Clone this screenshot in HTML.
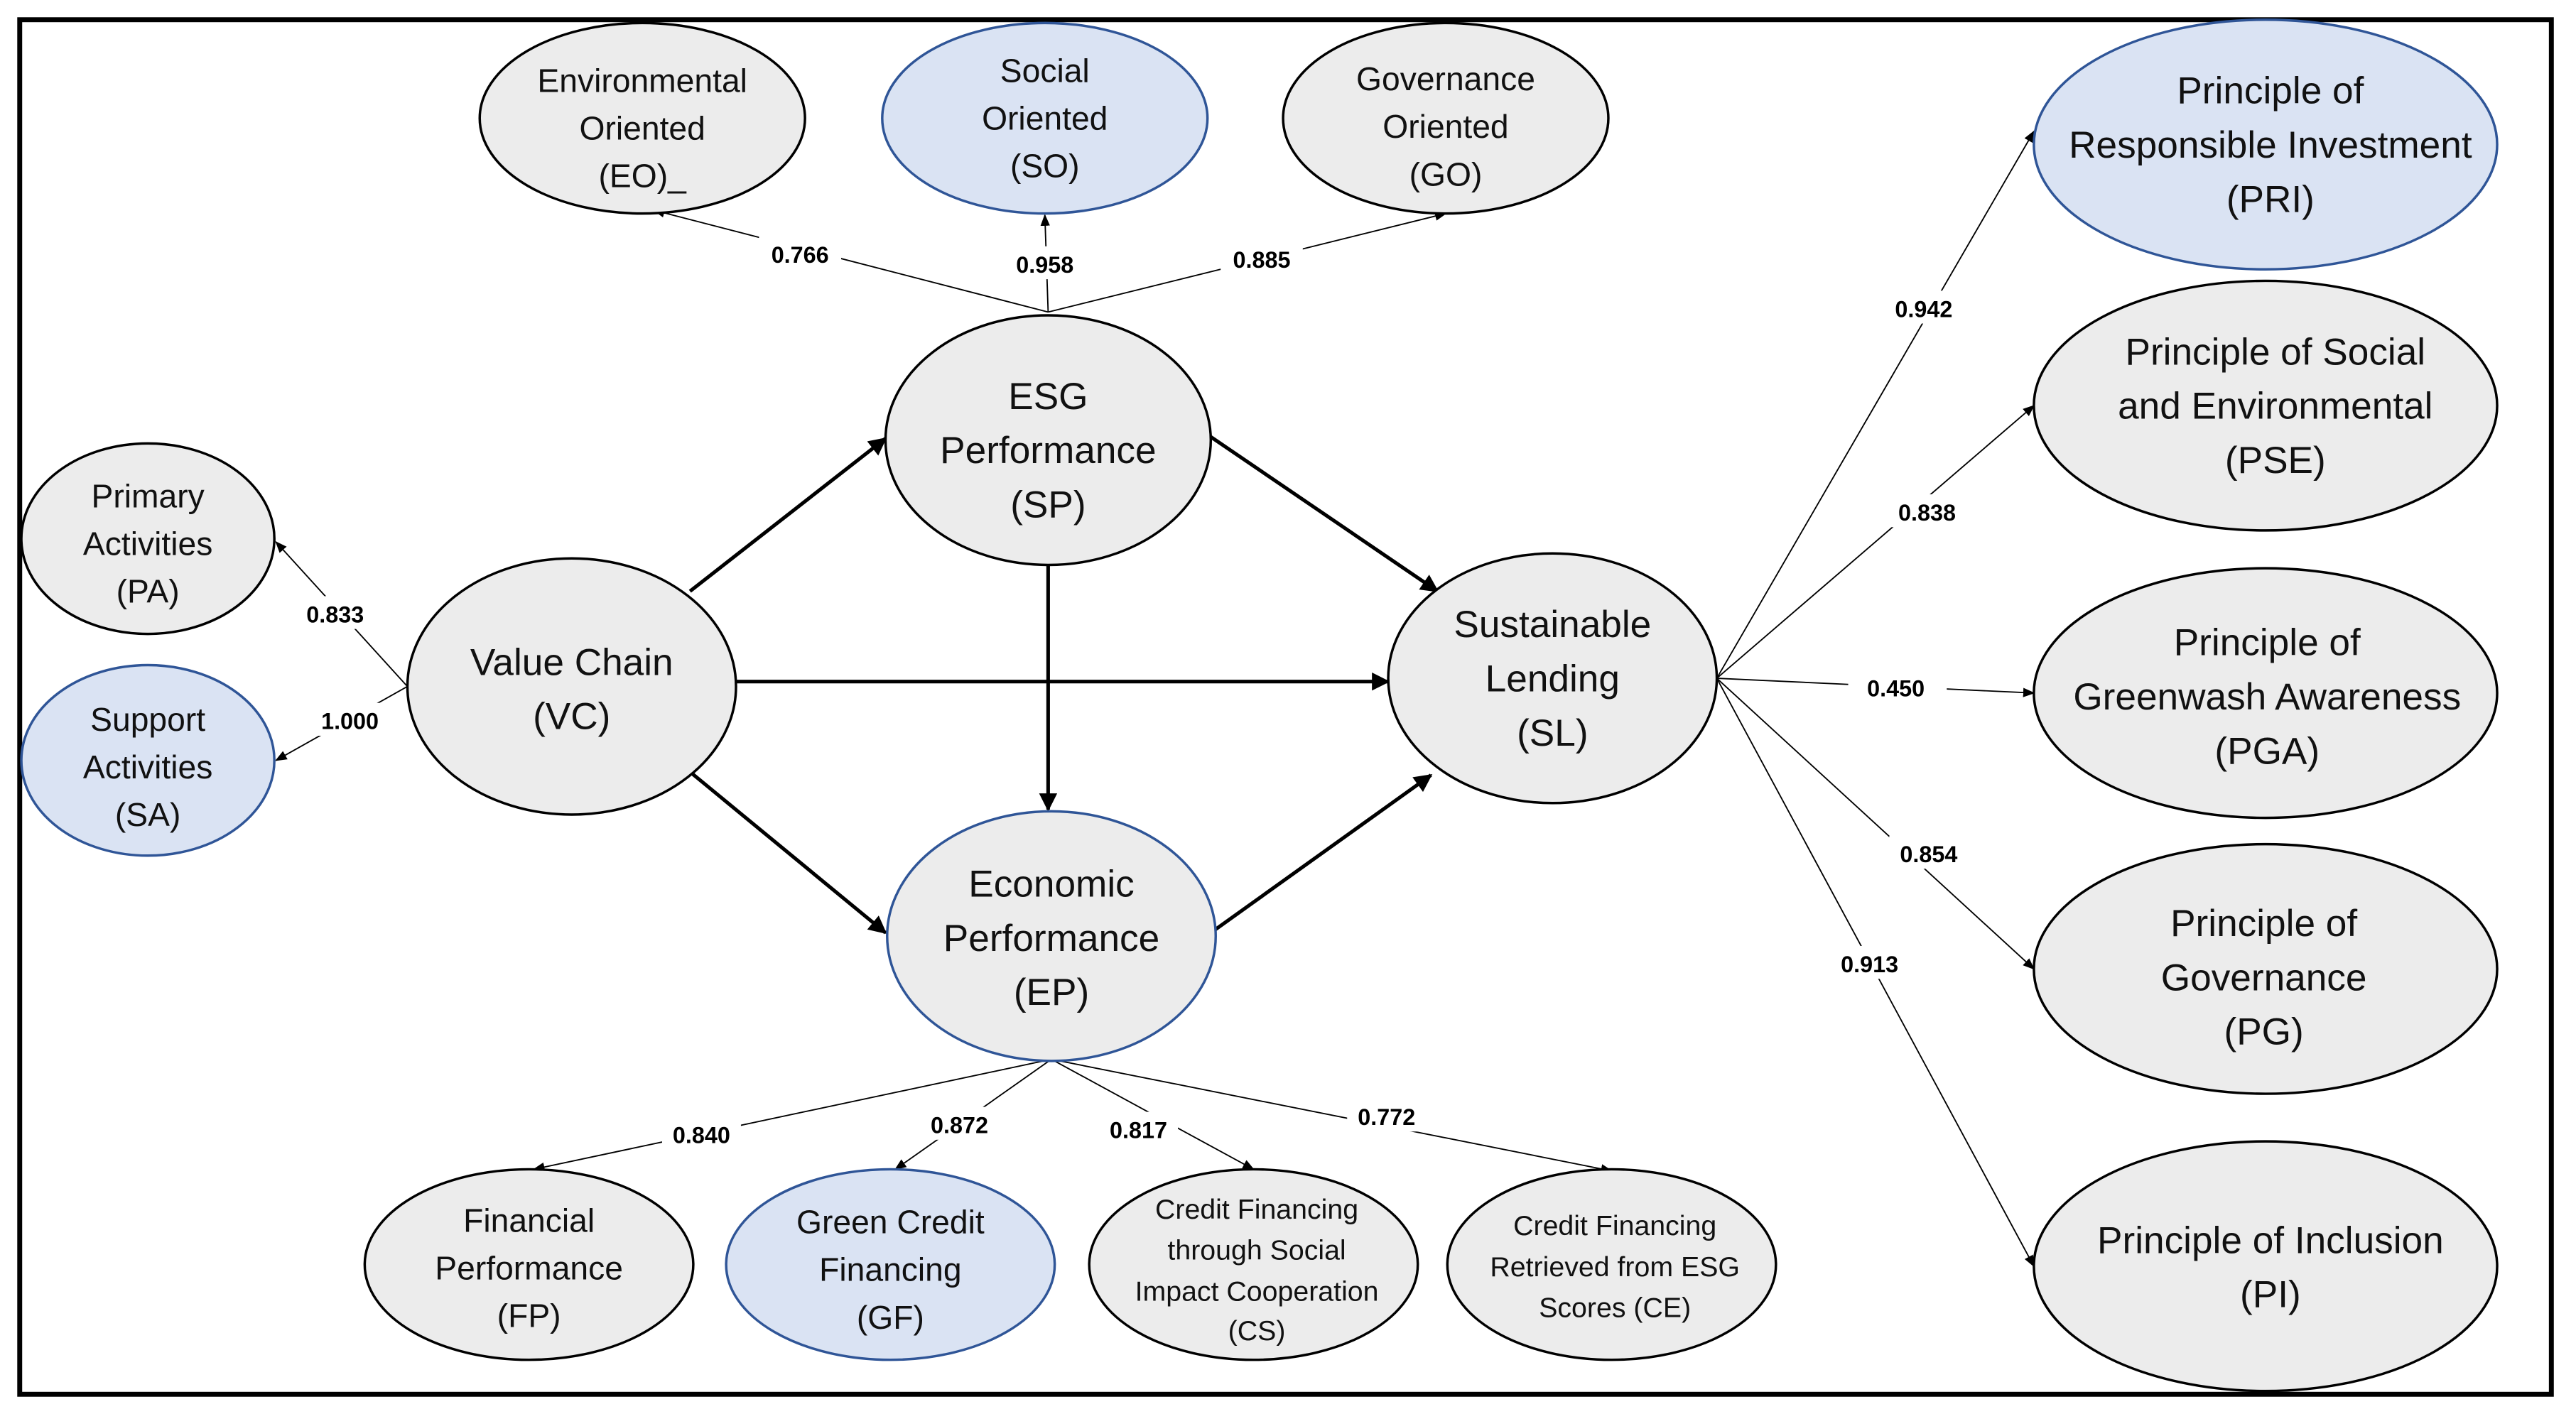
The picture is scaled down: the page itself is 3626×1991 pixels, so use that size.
<!DOCTYPE html>
<html><head><meta charset="utf-8"><style>html,body{margin:0;padding:0;background:#fff}svg{display:block}</style></head>
<body>
<svg width="3626" height="1991" viewBox="0 0 1568 861" preserveAspectRatio="none" xmlns="http://www.w3.org/2000/svg" font-family="Liberation Sans, sans-serif">
<defs>
<marker id="a" viewBox="0 0 10 10" refX="9" refY="5" markerWidth="5" markerHeight="5" orient="auto"><path d="M0,0L10,5L0,10z" fill="#000"/></marker>
<marker id="b" viewBox="0 0 10 10" refX="9" refY="5" markerWidth="9" markerHeight="9" orient="auto"><path d="M0,1L10,5L0,9z" fill="#000"/></marker>
</defs>
<rect x="0" y="0" width="1568" height="861" fill="#fff"/>
<rect x="12" y="12" width="1541" height="837" fill="none" stroke="#000" stroke-width="3"/>
<g stroke="#000" stroke-width="2.2" marker-end="url(#a)">
<line x1="420" y1="360" x2="539" y2="267"/>
<line x1="448" y1="415" x2="845" y2="415"/>
<line x1="420" y1="470" x2="539" y2="568"/>
<line x1="737" y1="266" x2="875" y2="360"/>
<line x1="638" y1="343" x2="638" y2="493"/>
<line x1="737" y1="568" x2="871" y2="472"/>
</g>
<g stroke="#000" stroke-width="0.8" marker-end="url(#b)">
<line x1="638" y1="190" x2="398" y2="128"/>
<line x1="638" y1="190" x2="636" y2="131"/>
<line x1="638" y1="190" x2="880" y2="130"/>
<line x1="248" y1="418" x2="168" y2="330"/>
<line x1="248" y1="418" x2="168" y2="463"/>
<line x1="640" y1="645" x2="325" y2="712"/>
<line x1="640" y1="645" x2="545" y2="712"/>
<line x1="640" y1="645" x2="763" y2="712"/>
<line x1="640" y1="645" x2="981" y2="713"/>
<line x1="1045" y1="413" x2="1238" y2="80"/>
<line x1="1045" y1="413" x2="1238" y2="247"/>
<line x1="1045" y1="413" x2="1238" y2="422"/>
<line x1="1045" y1="413" x2="1238" y2="590"/>
<line x1="1045" y1="413" x2="1238" y2="771"/>
</g>
<g font-size="14" font-weight="bold" text-anchor="middle">
<g fill="#fff">
<rect x="462" y="144" width="50" height="20"/><rect x="612" y="150" width="48" height="20"/><rect x="743" y="147" width="50" height="20"/>
<rect x="180" y="363" width="48" height="20"/><rect x="189" y="428" width="48" height="20"/>
<rect x="403" y="680" width="48" height="20"/><rect x="560" y="674" width="48" height="20"/><rect x="669" y="677" width="48" height="20"/><rect x="820" y="669" width="48" height="20"/>
<rect x="1147" y="177" width="48" height="20"/><rect x="1149" y="301" width="48" height="20"/><rect x="1125" y="408" width="60" height="20"/><rect x="1150" y="509" width="48" height="20"/><rect x="1114" y="576" width="48" height="20"/>
</g>
<text x="487" y="160">0.766</text><text x="636" y="166">0.958</text><text x="768" y="163">0.885</text>
<text x="204" y="379">0.833</text><text x="213" y="444">1.000</text>
<text x="427" y="696">0.840</text><text x="584" y="690">0.872</text><text x="693" y="693">0.817</text><text x="844" y="685">0.772</text>
<text x="1171" y="193">0.942</text><text x="1173" y="317">0.838</text><text x="1154" y="424">0.450</text><text x="1174" y="525">0.854</text><text x="1138" y="592">0.913</text>
</g>
<g stroke="#000" stroke-width="1.5" fill="#ececec">
<ellipse cx="391" cy="72" rx="99" ry="58"/>
<ellipse cx="880" cy="72" rx="99" ry="58"/>
<ellipse cx="638" cy="268" rx="99" ry="76"/>
<ellipse cx="90" cy="328" rx="77" ry="58"/>
<ellipse cx="348" cy="418" rx="100" ry="78"/>
<ellipse cx="945" cy="413" rx="100" ry="76"/>
<ellipse cx="322" cy="770" rx="100" ry="58"/>
<ellipse cx="763" cy="770" rx="100" ry="58"/>
<ellipse cx="981" cy="770" rx="100" ry="58"/>
<ellipse cx="1379" cy="247" rx="141" ry="76"/>
<ellipse cx="1379" cy="422" rx="141" ry="76"/>
<ellipse cx="1379" cy="590" rx="141" ry="76"/>
<ellipse cx="1379" cy="771" rx="141" ry="76"/>
</g>
<g stroke="#2f5597" stroke-width="1.5" fill="#dae3f3">
<ellipse cx="636" cy="72" rx="99" ry="58"/>
<ellipse cx="90" cy="463" rx="77" ry="58"/>
<ellipse cx="542" cy="770" rx="100" ry="58"/>
<ellipse cx="1379" cy="88" rx="141" ry="76"/>
</g>
<ellipse cx="640" cy="570" rx="100" ry="76" stroke="#2f5597" stroke-width="1.5" fill="#ececec"/>
<g text-anchor="middle" fill="#111">
<g font-size="20">
<text x="391" y="56">Environmental</text><text x="391" y="85">Oriented</text><text x="391" y="114">(EO)_</text>
<text x="636" y="50">Social</text><text x="636" y="79">Oriented</text><text x="636" y="108">(SO)</text>
<text x="880" y="55">Governance</text><text x="880" y="84">Oriented</text><text x="880" y="113">(GO)</text>
<text x="90" y="309">Primary</text><text x="90" y="338">Activities</text><text x="90" y="367">(PA)</text>
<text x="90" y="445">Support</text><text x="90" y="474">Activities</text><text x="90" y="503">(SA)</text>
<text x="322" y="750">Financial</text><text x="322" y="779">Performance</text><text x="322" y="808">(FP)</text>
<text x="542" y="751">Green Credit</text><text x="542" y="780">Financing</text><text x="542" y="809">(GF)</text>
</g>
<g font-size="17">
<text x="765" y="742">Credit Financing</text><text x="765" y="767">through Social</text><text x="765" y="792">Impact Cooperation</text><text x="765" y="816">(CS)</text>
<text x="983" y="752">Credit Financing</text><text x="983" y="777">Retrieved from ESG</text><text x="983" y="802">Scores (CE)</text>
</g>
<g font-size="23">
<text x="638" y="249">ESG</text><text x="638" y="282">Performance</text><text x="638" y="315">(SP)</text>
<text x="348" y="411">Value Chain</text><text x="348" y="444">(VC)</text>
<text x="945" y="388">Sustainable</text><text x="945" y="421">Lending</text><text x="945" y="454">(SL)</text>
<text x="640" y="546">Economic</text><text x="640" y="579">Performance</text><text x="640" y="612">(EP)</text>
<text x="1382" y="63">Principle of</text><text x="1382" y="96">Responsible Investment</text><text x="1382" y="129">(PRI)</text>
<text x="1385" y="222">Principle of Social</text><text x="1385" y="255">and Environmental</text><text x="1385" y="288">(PSE)</text>
<text x="1380" y="399">Principle of</text><text x="1380" y="432">Greenwash Awareness</text><text x="1380" y="465">(PGA)</text>
<text x="1378" y="570">Principle of</text><text x="1378" y="603">Governance</text><text x="1378" y="636">(PG)</text>
<text x="1382" y="763">Principle of Inclusion</text><text x="1382" y="796">(PI)</text>
</g>
</g>
</svg>
</body></html>
